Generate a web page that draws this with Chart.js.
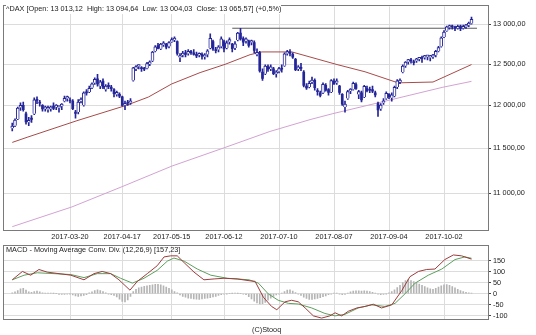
<!DOCTYPE html>
<html lang="en">
<head>
  <meta charset="UTF-8">
  <title>^DAX with MACD</title>
  <script src="https://cdn.jsdelivr.net/npm/chart.js"></script>
  <style>
    body {
      margin: 0;
      background: #fff;
      width: 536px;
      height: 335px;
      overflow: hidden;
      position: relative;
      font-family: "Liberation Sans", Arial, sans-serif;
    }
    canvas { position: absolute; left: 0; }
    #main { top: 0; }
    #macd { top: 240px; }
    .lbl {
      position: absolute;
      font-size: 7.3px;
      line-height: 1;
      color: #222;
      white-space: pre;
    }
    #title { left: 6px; top: 5px; background: #fff; padding-bottom: 2px; }
    #macdTitle { left: 6px; top: 246px; }
    #copy { left: 252px; top: 326px; }
  </style>
</head>
<body>
  <canvas id="main" width="536" height="244"></canvas>
  <canvas id="macd" width="536" height="86"></canvas>
  <div class="lbl" id="title">^DAX [Open: 13 013,12  High: 13 094,64  Low: 13 004,03  Close: 13 065,57] (+0,5%)</div>
  <div class="lbl" id="macdTitle">MACD - Moving Average Conv. Div. (12,26,9) [157,23]</div>
  <div class="lbl" id="copy">(C)Stooq</div>

  <script>
    // x tick positions are trading-day indexes (0 = 2017-02-17)
    const tickIdx = [21, 40, 58, 77, 97, 117, 137, 157];
    const tickLabels = ["2017-03-20", "2017-04-17", "2017-05-15", "2017-06-12",
                        "2017-07-10", "2017-08-07", "2017-09-04", "2017-10-02"];
    const priceTicks = [11000, 11500, 12000, 12500, 13000];
    const macdTicks = [-100, -50, 0, 50, 100, 150];

    const opens = [
      11730,11760,11840,11975,12000,11900,11800,11850,11900,12070,
      12040,12000,11960,11950,11960,11990,11980,11970,11990,12050,
      12080,12060,12050,11920,11920,12050,12000,12160,12160,12210,
      12270,12320,12230,12290,12190,12240,12220,12190,12130,12130,
      12100,12000,12030,12030,12300,12440,12470,12450,12450,12450,
      12500,12540,12660,12730,12690,12740,12750,12720,12780,12800,
      12780,12580,12610,12640,12630,12650,12640,12620,12610,12620,
      12590,12620,12700,12780,12680,12680,12720,12780,12700,12780,
      12750,12700,12800,12890,12820,12790,12790,12770,12770,12620,
      12640,12400,12380,12470,12440,12440,12380,12410,12450,12480,
      12630,12650,12620,12560,12440,12460,12400,12230,12220,12280,
      12300,12170,12150,12150,12240,12190,12160,12290,12270,12230,
      12130,11980,12080,12170,12190,12250,12130,12150,12100,12200,
      12190,12190,12150,12020,11960,12030,12080,12130,12090,12110,
      12220,12280,12400,12480,12530,12550,12520,12540,12560,12570,
      12580,12590,12580,12590,12610,12660,12720,12840,12920,12960,
      12970,12960,12950,12980,12950,12970,12990,13013
    ];
    const highs = [
      11790,11840,11980,12030,12040,11920,11860,11880,12090,12100,
      12060,12010,11990,11990,11990,12030,12010,11995,12020,12110,
      12110,12090,12070,11940,12070,12090,12160,12190,12230,12270,
      12330,12375,12300,12320,12250,12270,12240,12200,12170,12150,
      12110,12050,12060,12080,12460,12480,12490,12470,12460,12520,
      12540,12660,12730,12760,12760,12780,12760,12780,12830,12840,
      12790,12630,12660,12670,12680,12670,12680,12650,12640,12640,
      12630,12680,12880,12800,12710,12730,12840,12800,12790,12830,
      12760,12780,12900,12951,12840,12830,12800,12800,12790,12690,
      12660,12440,12490,12490,12490,12460,12420,12460,12490,12640,
      12670,12680,12640,12570,12480,12510,12420,12260,12290,12340,
      12320,12200,12170,12270,12260,12200,12310,12320,12320,12240,
      12140,12050,12180,12200,12280,12270,12180,12170,12240,12230,
      12220,12230,12170,12040,12020,12080,12160,12140,12150,12230,
      12310,12320,12490,12530,12560,12570,12550,12570,12580,12600,
      12610,12610,12610,12620,12670,12720,12840,12920,12980,12990,
      12990,12980,12990,12990,12990,13000,13030,13095
    ];
    const lows = [
      11700,11750,11830,11940,11930,11780,11760,11800,11890,12020,
      11990,11930,11930,11920,11930,11950,11950,11920,11950,12040,
      12050,12030,11950,11850,11900,12030,11990,12120,12150,12200,
      12250,12230,12200,12200,12170,12200,12170,12100,12110,12090,
      11990,11950,12000,12010,12290,12420,12440,12410,12420,12440,
      12480,12530,12650,12690,12680,12720,12690,12700,12770,12780,
      12610,12530,12590,12590,12610,12620,12610,12580,12590,12560,
      12560,12590,12690,12670,12640,12650,12700,12650,12690,12750,
      12650,12680,12790,12800,12730,12760,12710,12740,12640,12600,
      12400,12300,12370,12410,12420,12370,12340,12390,12400,12470,
      12610,12600,12570,12420,12420,12420,12220,12190,12210,12260,
      12180,12120,12100,12140,12170,12120,12150,12250,12250,12130,
      12000,11920,12070,12140,12180,12190,12080,12040,12090,12160,
      12150,12150,12100,11870,11940,12010,12070,12080,12050,12100,
      12200,12260,12390,12460,12500,12510,12490,12520,12540,12520,
      12560,12550,12540,12570,12590,12650,12710,12830,12910,12940,
      12940,12920,12940,12920,12940,12950,12970,13004
    ];
    const closes = [
      11757,11827,11967,11998,11948,11804,11822,11834,12067,12060,
      12027,11958,11967,11967,11979,11963,11990,11988,12009,12083,
      12095,12052,11962,11904,12040,12064,12149,12149,12203,12257,
      12313,12257,12282,12218,12230,12225,12200,12139,12154,12109,
      12000,12016,12027,12048,12455,12468,12472,12443,12438,12507,
      12527,12648,12716,12694,12749,12757,12711,12770,12807,12804,
      12631,12590,12638,12619,12659,12642,12621,12602,12629,12598,
      12615,12664,12822,12690,12667,12714,12816,12690,12765,12806,
      12691,12752,12888,12814,12774,12794,12733,12771,12671,12647,
      12416,12325,12475,12437,12453,12381,12389,12445,12437,12627,
      12641,12631,12587,12430,12452,12447,12240,12209,12264,12305,
      12212,12163,12118,12251,12181,12154,12297,12258,12292,12154,
      12014,12014,12165,12177,12263,12204,12165,12066,12229,12174,
      12180,12168,12123,11945,12002,12055,12142,12102,12124,12215,
      12296,12303,12476,12524,12553,12540,12518,12559,12561,12569,
      12600,12592,12594,12605,12657,12704,12828,12902,12970,12970,
      12968,12955,12976,12949,12970,12982,13010,13066
    ];

    // moving averages, read at the points where they bend
    const maShortIdx = [0, 5.7, 23.5, 41.5, 49.5, 58, 68.3, 77.4, 86.5, 90.8, 101.7, 118.1, 128.3, 140.3, 153, 167];
    const maShortVal = [11568, 11630, 11819, 12000, 12099, 12257, 12395, 12497, 12617, 12651, 12651, 12494, 12405, 12270, 12280, 12494];
    const maLongIdx = [0, 21.7, 39.9, 58.1, 77, 93.7, 108.3, 116.6, 137.4, 156.6, 167];
    const maLongVal = [10643, 10853, 11072, 11301, 11506, 11694, 11832, 11902, 12064, 12217, 12288];

    // resistance line at the June high
    const resIdx = [80, 169];
    const resVal = [12951, 12951];

    const macdIdx = [0,3.7,6.7,9.7,12.7,17,21.3,26.1,29.7,32.7,35.8,38.8,42.8,45.5,49.1,52.7,55.2,57.6,60,62.5,
                     66.1,69.7,73.4,77,81.8,86.1,88.3,91.3,94.3,96.2,99.2,101.6,104,106.5,109.5,112.5,115.5,117.4,119.8,122.2,
                     125.3,128.3,131.3,134.3,138,141.6,144.6,147.7,150.7,153.7,157.3,160.4,163.4,167];
    const macdVal = [63,101,84,110,98,91,84,63,91,101,91,63,16,56,91,127,167,172,172,141,
                     98,63,67,70,67,59,56,-16,-58,-73,-37,-30,-37,-65,-101,-111,-101,-87,-101,-80,
                     -65,-58,-48,-65,-51,13,77,101,110,112,155,176,172,157];
    const signalIdx = [0,4.3,9.1,15.2,21.3,26.1,30.9,35.8,39.4,43.7,47.9,52.7,56.4,58.8,62.5,67.3,72.2,78.2,86.1,89.5,
                       93.1,96.7,100.4,104,108.9,113.7,117.4,121,125.8,130.7,135.5,139.2,142.8,146.5,151.3,156.2,161,164.6,167];
    const signalVal = [63,84,95,91,87,73,91,91,70,48,70,106,148,162,148,112,84,70,63,48,
                       -1,-30,-44,-47,-65,-90,-101,-94,-65,-51,-58,-44,-1,48,84,112,155,167,161];
    const histVal = [
      4,8,14,22,24,16,8, 6,10,12,8,4, 2,3,2,1,0, -3,-3,-3,-2,-1,
      -6,-10,-12,-10,-8,-5, 4,8,14,17,14,9, 4,-2,-5,-8,
      -15,-25,-35,-37,-28,-12,
      10,20,26,30,33,36,38,40,43,42,40,36,30,24,18,10,4,
      -6,-12,-16,-20,-22,-24,-25,-26,-24,-22,-20,-18,-15,-12,-8,-5,
      -2,-1,0,1,2,1,0,-2,
      -4,-14,-24,-34,-42,-47,-46,-40,-30,-20,-12,-6,-2,
      2,10,16,17,12,5,
      -2,-8,-16,-22,-26,-26,-24,-22,-18,-14,-10,-5,-2,
      2,3,-2,-4,-3,
      2,8,12,13,13,12,13,12,10,6,2,
      -2,-4,-3,-1,
      4,10,18,28,38,50,60,64,60,55,50,44,
      38,32,26,22,20,24,30,
      36,40,41,38,32,26,20,
      14,9,6,4,3
    ];

    const FONT = { family: '"Liberation Sans", Arial, sans-serif', size: 7.3 };
    const GRID = "#dcdcdc";
    const CANDLE = "#25259a";

    const pts = (xs, ys) => xs.map((x, i) => ({ x: x, y: ys[i] }));

    // rising days are drawn hollow, falling days filled
    const upBodies = [], downBodies = [];
    closes.forEach((c, i) => {
      const p = { x: i, y: [opens[i], c] };
      (c >= opens[i] ? upBodies : downBodies).push(p);
    });

    // grey frame round each panel
    const frame = {
      id: "frame",
      afterDraw(chart) {
        const a = chart.chartArea, ctx = chart.ctx;
        ctx.save();
        ctx.strokeStyle = "#7a7a7a";
        ctx.lineWidth = 1;
        ctx.strokeRect(Math.round(a.left) - 0.5, Math.round(a.top) - 0.5,
                       Math.round(a.right - a.left) + 1, Math.round(a.bottom - a.top) + 1);
        ctx.restore();
      }
    };

    function xScale(showLabels) {
      return {
        type: "linear",
        min: -3,
        max: 173,
        offset: false,
        grid: { color: GRID, offset: false, drawTicks: false },
        border: { display: false },
        ticks: {
          display: showLabels,
          padding: 3,
          maxRotation: 0,
          autoSkip: false,
          font: FONT,
          color: "#222",
          callback: (v) => tickLabels[tickIdx.indexOf(v)] || ""
        },
        afterBuildTicks: (s) => { s.ticks = tickIdx.map((v) => ({ value: v })); },
        afterFit: (s) => { s.height = showLabels ? 14 : 0; }
      };
    }

    new Chart(document.getElementById("main"), {
      type: "bar",
      data: {
        datasets: [
          {
            data: upBodies,
            backgroundColor: "#ffffff",
            borderColor: CANDLE,
            borderWidth: 1,
            barThickness: 3,
            minBarLength: 2,
            grouped: false,
            order: 1
          },
          {
            data: downBodies,
            backgroundColor: CANDLE,
            barThickness: 2,
            minBarLength: 1,
            grouped: false,
            order: 1
          },
          {
            data: closes.map((c, i) => ({ x: i, y: [lows[i], highs[i]] })),
            backgroundColor: CANDLE,
            barThickness: 1,
            grouped: false,
            order: 2
          },
          {
            type: "line",
            data: pts(resIdx, resVal),
            borderColor: "#5a5a5a",
            borderWidth: 1,
            pointRadius: 0,
            order: 3
          },
          {
            type: "line",
            data: pts(maShortIdx, maShortVal),
            borderColor: "#a84a4a",
            borderWidth: 1,
            pointRadius: 0,
            order: 4
          },
          {
            type: "line",
            data: pts(maLongIdx, maLongVal),
            borderColor: "#d2a2d2",
            borderWidth: 1,
            pointRadius: 0,
            order: 5
          }
        ]
      },
      options: {
        responsive: false,
        animation: false,
        events: [],
        layout: { padding: { left: 4, top: 3, right: 0, bottom: 0 } },
        plugins: { legend: { display: false }, tooltip: { enabled: false } },
        scales: {
          x: xScale(true),
          y: {
            type: "logarithmic",
            position: "right",
            min: 10608,
            max: 13234,
            grid: { color: GRID, tickLength: 3, tickColor: "#444" },
            border: { display: false },
            ticks: {
              padding: 2,
              font: FONT,
              color: "#222",
              callback: (v) => Math.floor(v / 1000) + " " + String(v % 1000).padStart(3, "0") + ",00"
            },
            afterBuildTicks: (s) => { s.ticks = priceTicks.map((v) => ({ value: v })); },
            afterFit: (s) => { s.width = 48; }
          }
        }
      },
      plugins: [frame]
    });

    new Chart(document.getElementById("macd"), {
      type: "bar",
      data: {
        datasets: [
          {
            type: "line",
            data: pts(macdIdx, macdVal),
            borderColor: "#9e3c3c",
            borderWidth: 1,
            pointRadius: 0,
            order: 1
          },
          {
            type: "line",
            data: pts(signalIdx, signalVal),
            borderColor: "#5e9e5e",
            borderWidth: 1,
            pointRadius: 0,
            order: 2
          },
          {
            data: histVal.map((v, i) => ({ x: i, y: v })),
            backgroundColor: "#b4b4b4",
            barThickness: 1,
            grouped: false,
            order: 3
          }
        ]
      },
      options: {
        responsive: false,
        animation: false,
        events: [],
        layout: { padding: { left: 4, top: 5, right: 0, bottom: 3 } },
        plugins: { legend: { display: false }, tooltip: { enabled: false } },
        scales: {
          x: xScale(false),
          y: {
            position: "right",
            min: -118,
            max: 215,
            grid: { color: GRID, tickLength: 3, tickColor: "#444" },
            border: { display: false },
            ticks: { padding: 2, font: FONT, color: "#222", callback: (v) => String(v) },
            afterBuildTicks: (s) => { s.ticks = macdTicks.map((v) => ({ value: v })); },
            afterFit: (s) => { s.width = 48; }
          }
        }
      },
      plugins: [frame]
    });
  </script>
</body>
</html>
